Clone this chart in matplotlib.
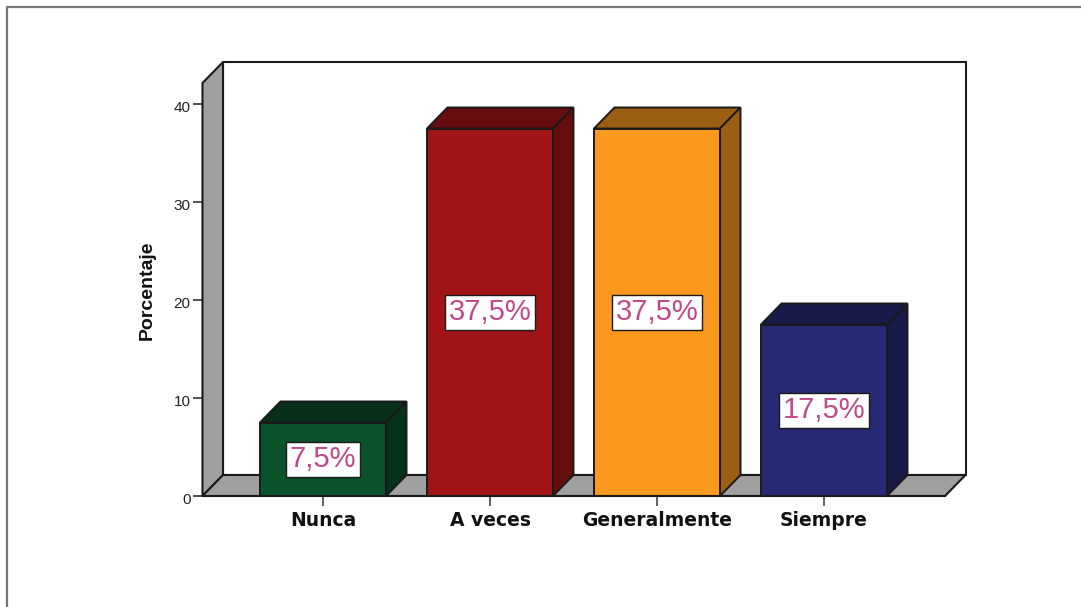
import matplotlib
matplotlib.use('Agg')
import matplotlib.pyplot as plt
from matplotlib.patches import Polygon
from matplotlib.lines import Line2D
from matplotlib.transforms import ScaledTranslation

categories = ['Nunca', 'A veces', 'Generalmente', 'Siempre']
values = [7.5, 37.5, 37.5, 17.5]
labels = ['7,5%', '37,5%', '37,5%', '17,5%']
yticks = [0, 10, 20, 30, 40]

front_colors = ['#0b522b', '#a01416', '#fb991f', '#272a75']
top_colors = ['#072f19', '#660d0f', '#9b5e12', '#181a49']
side_colors = ['#07331b', '#660d0f', '#9b5e12', '#181a49']
edge = '#1a1a1a'
wall = '#a0a0a0'
arial = 'Liberation Sans'

W, H = 1081, 607

fig = plt.figure(figsize=(W / 100, H / 100), dpi=100)
left, right, base, top = 202.5, 945, 496, 83
ax = fig.add_axes([left / W, (H - base) / H, (right - left) / W, (base - top) / H])

# pixel scale of the original: 167 px between bars, 9.8 px per percent
xpx = 167.0
ypx = 9.8
ax.set_xlim((left - 323) / xpx, (right - 323) / xpx)
ax.set_ylim(0, (base - top) / ypx)
dx = 20.5 / xpx
dy = 21 / ypx
bar_w = 126 / xpx
x0, x1 = ax.get_xlim()
y1 = ax.get_ylim()[1]

# walls and floor
ax.add_patch(Polygon([(x0 + dx, dy), (x0 + dx, y1 + dy), (x1 + dx, y1 + dy), (x1 + dx, dy)],
                     fc='white', ec=edge, lw=1.5, clip_on=False, zorder=1))
ax.add_patch(Polygon([(x0, 0), (x0, y1), (x0 + dx, y1 + dy), (x0 + dx, dy)],
                     fc=wall, ec=edge, lw=1.5, clip_on=False, zorder=2))
ax.add_patch(Polygon([(x0, 0), (x0 + dx, dy), (x1 + dx, dy), (x1, 0)],
                     fc=wall, ec=edge, lw=1.5, clip_on=False, zorder=2))

# 3d bars
for i, v in enumerate(values):
    l = i - bar_w / 2
    r = i + bar_w / 2
    ax.bar(i, v, width=bar_w, color=front_colors[i], edgecolor=edge, linewidth=1.4, zorder=4)
    ax.add_patch(Polygon([(l, v), (l + dx, v + dy), (r + dx, v + dy), (r, v)],
                         fc=top_colors[i], ec=edge, lw=1.4, clip_on=False, zorder=3))
    ax.add_patch(Polygon([(r, 0), (r, v), (r + dx, v + dy), (r + dx, dy)],
                         fc=side_colors[i], ec=edge, lw=1.4, clip_on=False, zorder=3))
    ax.text(i, v / 2, labels[i], ha='center', va='center', fontsize=21, color='#c2488c', zorder=6,
            family=arial, bbox=dict(boxstyle='square,pad=0.12', fc='white', ec=edge, lw=1))

for s in ['top', 'right', 'left']:
    ax.spines[s].set_visible(False)
ax.spines['bottom'].set_color(edge)
ax.spines['bottom'].set_linewidth(1.5)
ax.spines['bottom'].set_zorder(5)

ax.set_xticks(range(len(categories)))
ax.set_xticklabels(categories, fontsize=13.5, fontweight='bold', color='#111111', family='DejaVu Sans')
ax.set_yticks(yticks)
ax.tick_params(axis='x', length=7, width=1.2, color='#444444', pad=4)
ax.tick_params(axis='y', length=7.5, width=1.2, color='#333333', labelsize=11, pad=1,
               labelcolor='#222222', labelfontfamily=arial)
# y tick labels sit a little below their ticks
shift = ScaledTranslation(0, -2 / 100, fig.dpi_scale_trans)
for t in ax.get_yticklabels():
    t.set_transform(t.get_transform() + shift)
ax.set_ylabel('Porcentaje', fontsize=14, fontweight='bold', color='#111111', family=arial)
ax.yaxis.set_label_coords((156 - left) / (right - left), (base - 290) / (base - top))

# outer frame, only top and left are in the picture
fig.add_artist(Line2D([6.5 / W, 6.5 / W, 1], [0, 1 - 6.5 / H, 1 - 6.5 / H],
                      color='#777777', lw=1.6, transform=fig.transFigure))

fig.savefig('out.png', dpi=100)
